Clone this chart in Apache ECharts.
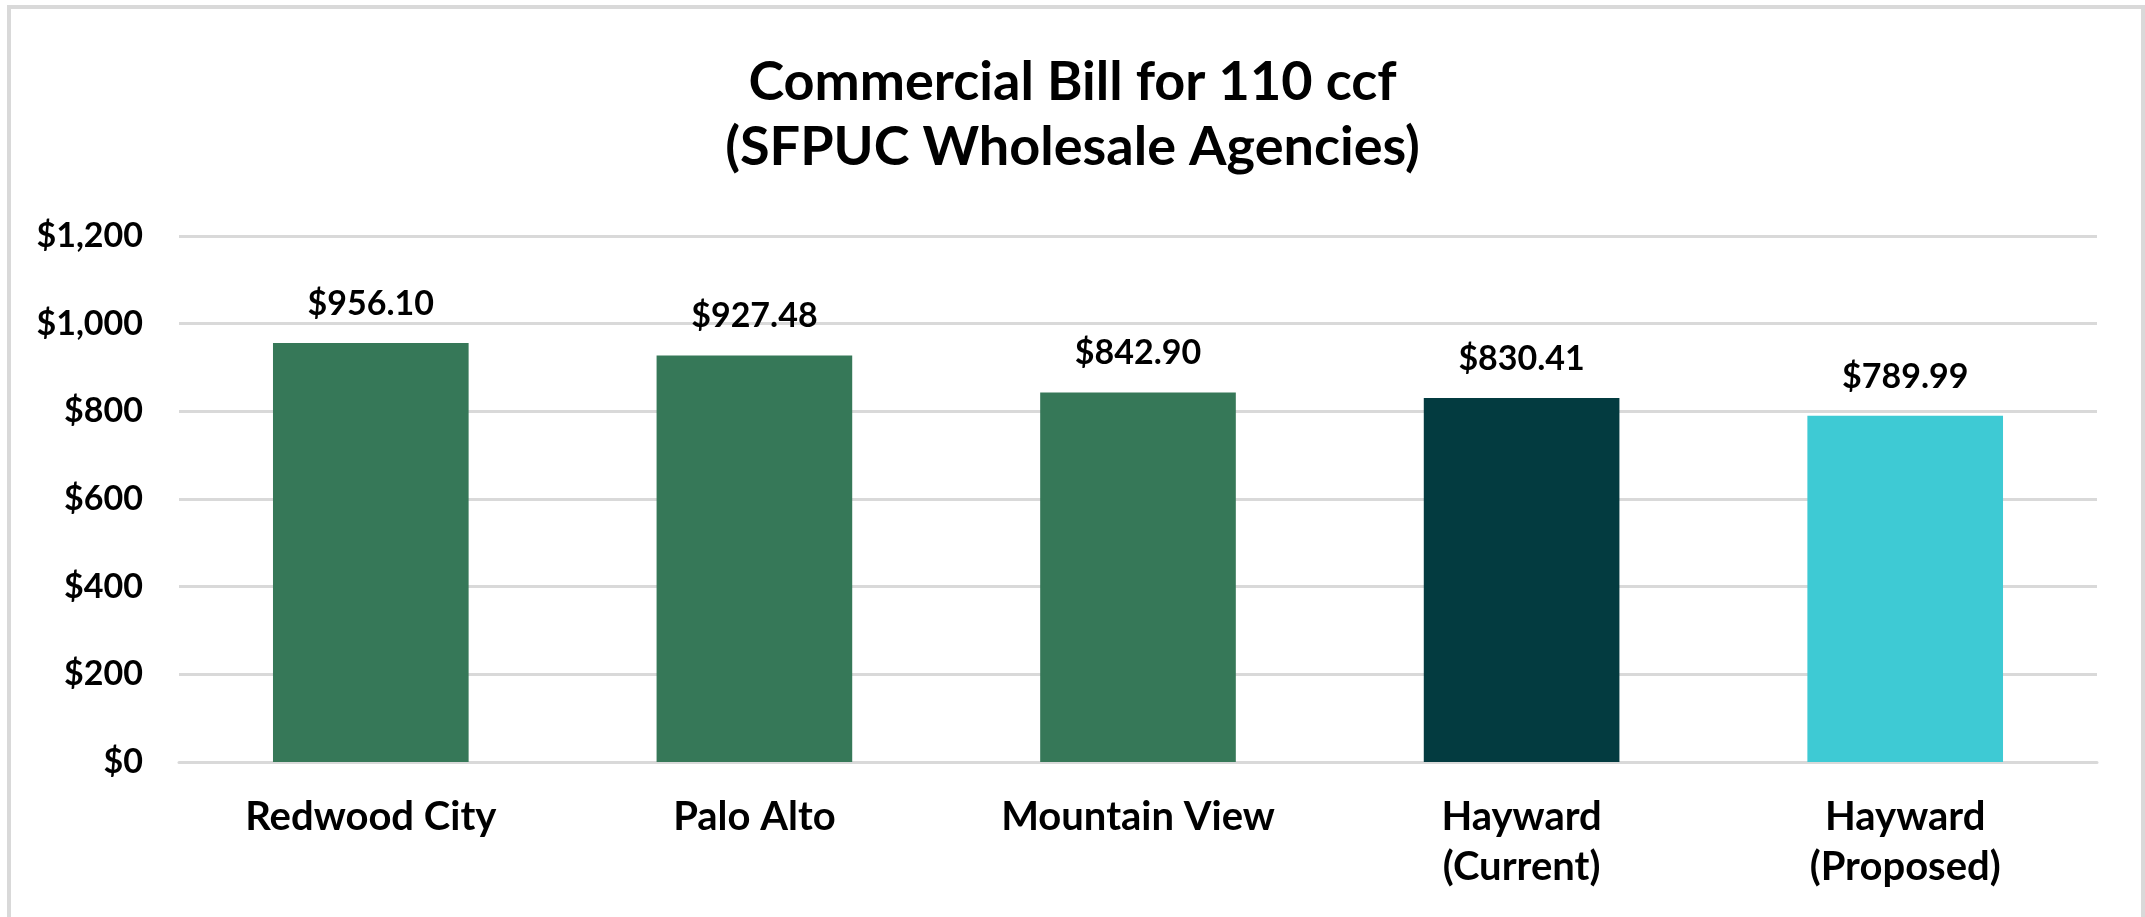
<!DOCTYPE html>
<html>
<head>
<meta charset="utf-8">
<script src="https://cdn.jsdelivr.net/npm/echarts@6/dist/echarts.min.js"></script>
<style>
html,body{margin:0;padding:0;background:#fff;}
#chart{width:2145px;height:917px;}
</style>
</head>
<body>
<div id="chart"></div>
<script>
const titleText = "Commercial Bill for 110 ccf\n(SFPUC Wholesale Agencies)";
const categories = ["Redwood City", "Palo Alto", "Mountain View", "Hayward\n(Current)", "Hayward\n(Proposed)"];
const values = [956.10, 927.48, 842.90, 830.41, 789.99];
const barColors = ["#367858", "#367858", "#367858", "#033B40", "#3ECAD4"];
const yTicks = [0, 200, 400, 600, 800, 1000, 1200];

const FONT = "Lato";
const chart = echarts.init(document.getElementById('chart'), null, {renderer: 'canvas'});
chart.setOption({
  backgroundColor: '#ffffff',
  animation: false,
  graphic: [{
    type: 'rect',
    shape: {x: 9, y: 7, width: 2134, height: 1000},
    style: {fill: 'none', stroke: '#d9d9d9', lineWidth: 4},
    silent: true,
    z: 0
  }],
  title: {
    text: titleText,
    left: 'center',
    top: 45,
    textStyle: {fontFamily: FONT, fontWeight: 'bold', fontSize: 54, lineHeight: 65, color: '#000'}
  },
  grid: {left: 179, right: 48, top: 236, bottom: 155, containLabel: false},
  xAxis: {
    type: 'category',
    data: categories,
    axisLine: {show: true, lineStyle: {color: '#d9d9d9', width: 3}},
    axisTick: {show: false},
    axisLabel: {
      fontFamily: FONT, fontWeight: 'bold', fontSize: 40, lineHeight: 50, color: '#000',
      margin: 30, interval: 0
    }
  },
  yAxis: {
    type: 'value',
    min: yTicks[0],
    max: yTicks[yTicks.length - 1],
    interval: yTicks[1] - yTicks[0],
    axisLine: {show: false},
    axisTick: {show: false},
    splitLine: {lineStyle: {color: '#d9d9d9', width: 3}},
    axisLabel: {
      fontFamily: FONT, fontWeight: 'bold', fontSize: 34, color: '#000', margin: 36,
      formatter: v => '$' + v.toLocaleString('en-US')
    }
  },
  series: [{
    type: 'bar',
    data: values.map((v, i) => ({value: v, itemStyle: {color: barColors[i]}})),
    barCategoryGap: '49%',
    label: {
      show: true,
      position: 'top',
      distance: 22,
      fontFamily: FONT, fontWeight: 'bold', fontSize: 34, color: '#000',
      formatter: p => '$' + p.value.toFixed(2)
    }
  }]
});
</script>
</body>
</html>
